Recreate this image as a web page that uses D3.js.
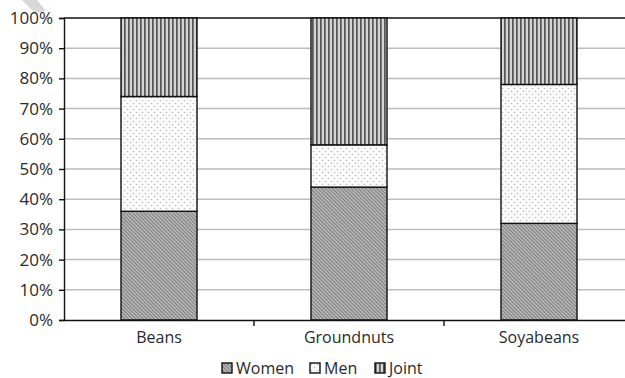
<!DOCTYPE html>
<html lang="en">
<head>
<meta charset="UTF-8">
<title>Stacked percent bars</title>
<style>
  body { margin: 0; background: #fff; }
  svg { display: block; }
  svg text { font-family: "Open Sans", "DejaVu Sans", sans-serif; fill: #2a2a2a; }
</style>
</head>
<body>
<svg width="625" height="378"></svg>
<script src="https://cdn.jsdelivr.net/npm/d3@7"></script>
<script>
const crops = ['Beans', 'Groundnuts', 'Soyabeans'];
const women = [36, 44, 32];
const men = [38, 14, 46];
const joint = [26, 42, 22];
const seriesNames = ['Women', 'Men', 'Joint'];
const yTicks = [0, 10, 20, 30, 40, 50, 60, 70, 80, 90, 100];

const svg = d3.select('svg');
const mLeft = 64, mTop = 18, mBottom = 320, mRight = 634;

const x = d3.scaleBand().domain(crops).range([mLeft, mRight]).paddingInner(0).paddingOuter(0);
const y = d3.scaleLinear().domain([0, 100]).range([mBottom, mTop]);

// patterns
const defs = svg.append('defs');
const pW = defs.append('pattern').attr('id', 'pat-women').attr('patternUnits', 'userSpaceOnUse')
  .attr('width', 2.6).attr('height', 2.6).attr('patternTransform', 'rotate(-45)');
pW.append('rect').attr('width', 2.6).attr('height', 2.6).attr('fill', '#bdbdbd');
pW.append('rect').attr('width', 1.1).attr('height', 2.6).attr('fill', '#7c7c7c');

const pM = defs.append('pattern').attr('id', 'pat-men').attr('patternUnits', 'userSpaceOnUse')
  .attr('width', 6).attr('height', 6);
pM.append('rect').attr('width', 6).attr('height', 6).attr('fill', '#fbfbfb');
pM.append('circle').attr('cx', 1.5).attr('cy', 1.5).attr('r', 0.8).attr('fill', '#bbb');
pM.append('circle').attr('cx', 4.5).attr('cy', 4.5).attr('r', 0.8).attr('fill', '#bbb');

const pJ = defs.append('pattern').attr('id', 'pat-joint').attr('patternUnits', 'userSpaceOnUse')
  .attr('width', 4).attr('height', 4);
pJ.append('rect').attr('width', 4).attr('height', 4).attr('fill', '#d4d4d4');
pJ.append('rect').attr('width', 1.7).attr('height', 4).attr('fill', '#555');

const fills = ['url(#pat-women)', 'url(#pat-men)', 'url(#pat-joint)'];

// watermark
svg.append('polygon').attr('points', '22,0 37,0 46,11 35,13').attr('fill', '#d8d8d8');

// gridlines
svg.append('g').selectAll('line').data(yTicks.slice(1)).join('line')
  .attr('x1', mLeft).attr('x2', 625)
  .attr('y1', d => y(d)).attr('y2', d => y(d))
  .attr('stroke', d => d === 100 ? '#111' : '#bdbdbd')
  .attr('stroke-width', 1.5);

// bars
const rows = crops.map((c, i) => ({ crop: c, Women: women[i], Men: men[i], Joint: joint[i] }));
const stacked = d3.stack().keys(seriesNames)(rows);
const barW = 76;
svg.append('g').selectAll('g').data(stacked).join('g')
  .attr('fill', (d, i) => fills[i])
  .selectAll('rect').data(d => d).join('rect')
  .attr('x', d => x(d.data.crop) + x.bandwidth() / 2 - barW / 2)
  .attr('width', barW)
  .attr('y', d => y(d[1]))
  .attr('height', d => y(d[0]) - y(d[1]))
  .attr('stroke', '#111').attr('stroke-width', 1.4);

// y axis
const yAxis = svg.append('g').attr('transform', `translate(${mLeft},0)`)
  .call(d3.axisLeft(y).tickValues(yTicks).tickFormat(d => d + '%').tickSize(5).tickPadding(6));
yAxis.select('.domain').attr('stroke', '#111').attr('stroke-width', 1.4);
yAxis.selectAll('.tick line').attr('stroke', '#111').attr('stroke-width', 1.4);
yAxis.selectAll('.tick text').style('font-size', '17px');

// x axis
const xAxis = svg.append('g').attr('transform', `translate(0,${mBottom})`)
  .call(d3.axisBottom(x).tickSize(0).tickPadding(12));
xAxis.select('.domain').attr('stroke', '#111').attr('stroke-width', 1.5);
xAxis.append('g').selectAll('line').data(crops.slice(1)).join('line')
  .attr('x1', d => x(d)).attr('x2', d => x(d))
  .attr('y1', 0).attr('y2', 6).attr('stroke', '#111').attr('stroke-width', 1.4);
xAxis.selectAll('.tick text').style('font-size', '16px');

// legend
const legendX = [222, 310, 375];
const lg = svg.append('g').attr('class', 'legend');
const item = lg.selectAll('g').data(seriesNames).join('g')
  .attr('transform', (d, i) => `translate(${legendX[i]},363)`);
item.append('rect').attr('width', 10).attr('height', 10)
  .attr('fill', (d, i) => fills[i]).attr('stroke', '#111').attr('stroke-width', 1.4);
item.append('text').attr('x', 14).attr('y', 10.5).style('font-size', '16px').text(d => d);
</script>
</body>
</html>
